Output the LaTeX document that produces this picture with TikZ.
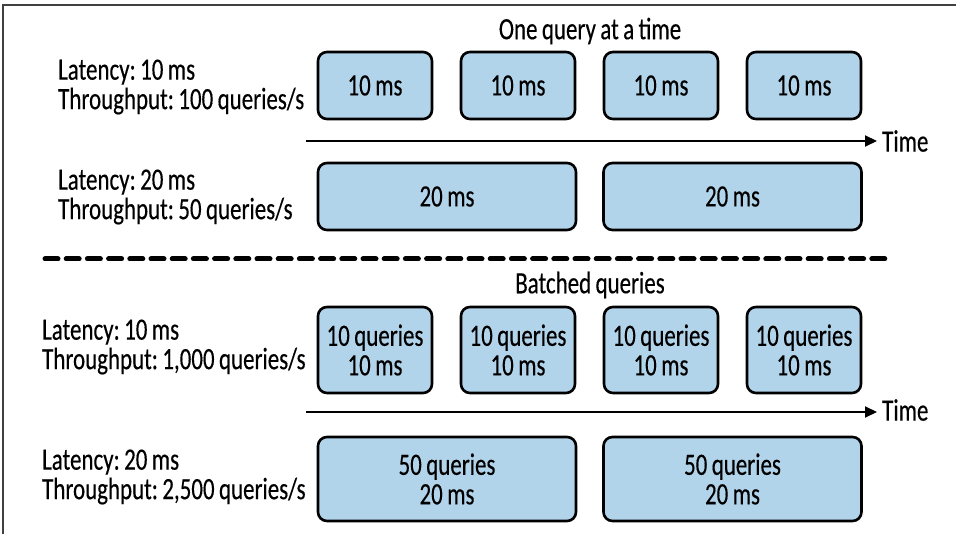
\documentclass[tikz,border=0pt]{standalone}
\usepackage{fontspec}
\setmainfont[FakeStretch=0.74, WordSpace=0.85, FakeBold=0.3]{Carlito}
\usetikzlibrary{arrows.meta}
\definecolor{boxblue}{RGB}{178,212,234}
\newcommand\lblfont{\fontsize{31}{29.5}\selectfont\frenchspacing}
\begin{document}
\begin{tikzpicture}[x=1pt,y=-1pt,
  qbox/.style={draw=black, line width=2.6pt, fill=boxblue, rounded corners=9pt, inner sep=0pt, align=center, font=\lblfont},
  lbl/.style={anchor=west, align=left, inner sep=0pt, font=\lblfont},
  ttl/.style={inner sep=0pt, font=\lblfont},
  timeline/.style={line width=2pt, -{Triangle[length=12pt,width=11pt]}, shorten >=5pt},
  sep/.style={line width=5pt, line cap=round, dash pattern=on 13pt off 8.2pt},
  frame/.style={draw=black!75, line width=1.5pt}
]
\useasboundingbox (0,0) rectangle (956,534);
\fill[white] (0,0) rectangle (956,534);
% frame
\coordinate (f0) at (3,534);
\coordinate (f1) at (3,5);
\coordinate (f2) at (956,5);
\draw[frame] (f0) -- (f1) -- (f2);

% ---------- One query at a time ----------
\node[ttl] (t1) at (590,31) {One query at a time};
\node[lbl] (l1) at (58,87) {Latency: 10 ms\\Throughput: 100 queries/s};
\node[qbox, minimum width=114pt, minimum height=67pt] (a1) at (375,85.5) {10 ms};
\node[qbox, minimum width=114pt, minimum height=67pt] (a2) at (518,85.5) {10 ms};
\node[qbox, minimum width=114pt, minimum height=67pt] (a3) at (661,85.5) {10 ms};
\node[qbox, minimum width=114pt, minimum height=67pt] (a4) at (804,85.5) {10 ms};

\coordinate (s1) at (306,141);
\node[ttl, anchor=west] (time1) at (882,141) {Time};
\draw[timeline] (s1) -- (time1.west);

\node[lbl] (l2) at (58,197) {Latency: 20 ms\\Throughput: 50 queries/s};
\node[qbox, minimum width=258pt, minimum height=67pt] (b1) at (447,196.5) {20 ms};
\node[qbox, minimum width=258pt, minimum height=67pt] (b2) at (732.5,196.5) {20 ms};

% separator
\coordinate (d0) at (45,259);
\coordinate (d1) at (887,259);
\draw[sep] (d0) -- (d1);

% ---------- Batched queries ----------
\node[ttl] (t2) at (590,285) {Batched queries};
\node[lbl] (l3) at (42,347) {Latency: 10 ms\\Throughput: 1,000 queries/s};
\node[qbox, minimum width=114pt, minimum height=86pt] (c1) at (375,350) {10 queries\\10 ms};
\node[qbox, minimum width=114pt, minimum height=86pt] (c2) at (518,350) {10 queries\\10 ms};
\node[qbox, minimum width=114pt, minimum height=86pt] (c3) at (661,350) {10 queries\\10 ms};
\node[qbox, minimum width=114pt, minimum height=86pt] (c4) at (804,350) {10 queries\\10 ms};

\coordinate (s2) at (306,412);
\node[ttl, anchor=west] (time2) at (882,410) {Time};
\draw[timeline] (s2) -- (time2.west |- s2);

\node[lbl] (l4) at (42,477) {Latency: 20 ms\\Throughput: 2,500 queries/s};
\node[qbox, minimum width=258pt, minimum height=84pt] (e1) at (447,479) {50 queries\\20 ms};
\node[qbox, minimum width=258pt, minimum height=84pt] (e2) at (732.5,479) {50 queries\\20 ms};
\end{tikzpicture}
\end{document}
